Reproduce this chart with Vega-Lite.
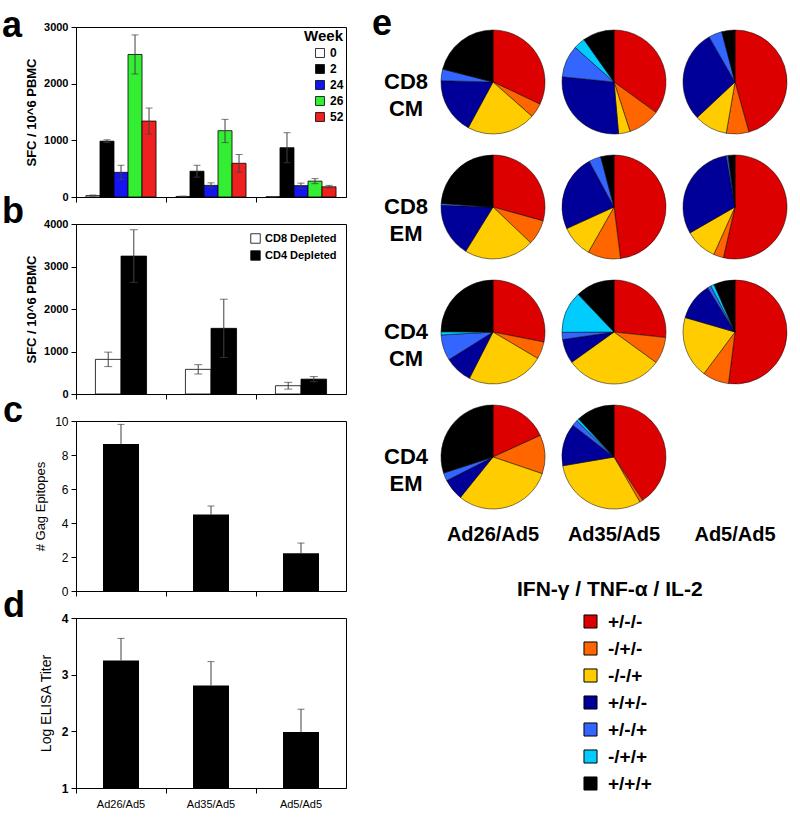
{
  "$schema": "https://vega.github.io/schema/vega-lite/v6.json",
  "padding": {"left": 1, "top": 6, "right": 0, "bottom": 0},
  "config": {
    "font": "Liberation Sans",
    "view": {"stroke": null},
    "axis": {"domainColor": "black", "tickColor": "black", "labelColor": "black", "titleColor": "black", "grid": false, "tickSize": 5, "labelPadding": 3, "labelOverlap": false},
    "title": {"color": "black"},
    "legend": {"labelColor": "black", "titleColor": "black"}
  },
  "hconcat": [
    {
      "vconcat": [
        {
          "width": 270, "height": 170,
          "view": {"stroke": "black", "strokeWidth": 1},
          "title": {"text": "a", "anchor": "start", "frame": "group", "orient": "top", "fontSize": 36, "fontWeight": "bold", "baseline": "alphabetic", "offset": 0, "dx": -74, "dy": 52},
          "data": {"values": [
            {"g": "Ad26/Ad5", "w": "0", "v": 25, "lo": 15, "hi": 35},
            {"g": "Ad26/Ad5", "w": "2", "v": 985, "lo": 960, "hi": 1010},
            {"g": "Ad26/Ad5", "w": "24", "v": 435, "lo": 310, "hi": 560},
            {"g": "Ad26/Ad5", "w": "26", "v": 2515, "lo": 2170, "hi": 2860},
            {"g": "Ad26/Ad5", "w": "52", "v": 1340, "lo": 1110, "hi": 1570},
            {"g": "Ad35/Ad5", "w": "0", "v": 10, "lo": 5, "hi": 15},
            {"g": "Ad35/Ad5", "w": "2", "v": 455, "lo": 350, "hi": 560},
            {"g": "Ad35/Ad5", "w": "24", "v": 205, "lo": 160, "hi": 250},
            {"g": "Ad35/Ad5", "w": "26", "v": 1170, "lo": 960, "hi": 1370},
            {"g": "Ad35/Ad5", "w": "52", "v": 595, "lo": 440, "hi": 750},
            {"g": "Ad5/Ad5", "w": "0", "v": 5, "lo": 2, "hi": 8},
            {"g": "Ad5/Ad5", "w": "2", "v": 870, "lo": 605, "hi": 1135},
            {"g": "Ad5/Ad5", "w": "24", "v": 200, "lo": 155, "hi": 245},
            {"g": "Ad5/Ad5", "w": "26", "v": 280, "lo": 235, "hi": 325},
            {"g": "Ad5/Ad5", "w": "52", "v": 180, "lo": 160, "hi": 205}
          ]},
          "encoding": {
            "x": {"field": "g", "type": "nominal", "sort": ["Ad26/Ad5", "Ad35/Ad5", "Ad5/Ad5"], "scale": {"paddingInner": 0, "paddingOuter": 0}, "axis": {"title": null, "labels": false, "bandPosition": 0}},
            "xOffset": {"field": "w", "type": "nominal", "sort": ["0", "2", "24", "26", "52"], "scale": {"paddingInner": 0, "paddingOuter": 0.71}}
          },
          "layer": [
            {
              "mark": {"type": "bar", "stroke": "black", "strokeWidth": 0.8},
              "encoding": {
                "y": {"field": "v", "type": "quantitative", "scale": {"domain": [0, 3000]}, "axis": {"title": "SFC / 10^6 PBMC", "values": [0, 1000, 2000, 3000], "format": "d", "labelOverlap": false, "labelFontSize": 11, "labelFontWeight": "bold", "titleFontSize": 13, "titleFontWeight": "bold", "titlePadding": 5}},
                "color": {"field": "w", "type": "nominal", "sort": ["0", "2", "24", "26", "52"], "scale": {"domain": ["0", "2", "24", "26", "52"], "range": ["#ffffff", "#000000", "#1414ee", "#33ee33", "#ee2020"]},
                  "legend": {"title": "Week", "orient": "top-right", "offset": 2, "titleFontSize": 15, "titleFontWeight": "bold", "titleAnchor": "end", "labelFontSize": 12, "labelFontWeight": "bold", "symbolType": "square", "symbolSize": 80, "symbolStrokeColor": "black", "symbolStrokeWidth": 0.8, "rowPadding": 2, "labelOffset": 4, "titlePadding": 3}}
              }
            },
            {"mark": {"type": "rule", "color": "#404040", "strokeWidth": 1}, "encoding": {"y": {"field": "lo", "type": "quantitative"}, "y2": {"field": "hi"}}},
            {"mark": {"type": "tick", "color": "#404040", "size": 7, "thickness": 1}, "encoding": {"y": {"field": "hi", "type": "quantitative"}}},
            {"mark": {"type": "tick", "color": "#404040", "size": 7, "thickness": 1}, "encoding": {"y": {"field": "lo", "type": "quantitative"}}}
          ]
        },
        {
          "width": 270, "height": 170,
          "view": {"stroke": "black", "strokeWidth": 1},
          "title": {"text": "b", "anchor": "start", "frame": "group", "orient": "top", "fontSize": 36, "fontWeight": "bold", "baseline": "alphabetic", "offset": 0, "dx": -74, "dy": 41},
          "data": {"values": [
            {"g": "Ad26/Ad5", "d": "CD8 Depleted", "v": 815, "lo": 645, "hi": 985},
            {"g": "Ad26/Ad5", "d": "CD4 Depleted", "v": 3245, "lo": 2625, "hi": 3865},
            {"g": "Ad35/Ad5", "d": "CD8 Depleted", "v": 580, "lo": 470, "hi": 690},
            {"g": "Ad35/Ad5", "d": "CD4 Depleted", "v": 1545, "lo": 860, "hi": 2230},
            {"g": "Ad5/Ad5", "d": "CD8 Depleted", "v": 195, "lo": 115, "hi": 275},
            {"g": "Ad5/Ad5", "d": "CD4 Depleted", "v": 350, "lo": 290, "hi": 410}
          ]},
          "encoding": {
            "x": {"field": "g", "type": "nominal", "sort": ["Ad26/Ad5", "Ad35/Ad5", "Ad5/Ad5"], "scale": {"paddingInner": 0, "paddingOuter": 0}, "axis": {"title": null, "labels": false, "bandPosition": 0}},
            "xOffset": {"field": "d", "type": "nominal", "sort": ["CD8 Depleted", "CD4 Depleted"], "scale": {"paddingInner": 0, "paddingOuter": 0.76}}
          },
          "layer": [
            {
              "mark": {"type": "bar", "stroke": "black", "strokeWidth": 0.8},
              "encoding": {
                "y": {"field": "v", "type": "quantitative", "scale": {"domain": [0, 4000]}, "axis": {"title": "SFC / 10^6 PBMC", "values": [0, 1000, 2000, 3000, 4000], "format": "d", "labelOverlap": false, "labelFontSize": 11, "labelFontWeight": "bold", "titleFontSize": 13, "titleFontWeight": "bold", "titlePadding": 5}},
                "color": {"field": "d", "type": "nominal", "sort": ["CD8 Depleted", "CD4 Depleted"], "scale": {"domain": ["CD8 Depleted", "CD4 Depleted"], "range": ["#ffffff", "#000000"]},
                  "legend": {"title": null, "orient": "top-right", "offset": 9, "labelFontSize": 11, "labelFontWeight": "bold", "symbolType": "square", "symbolSize": 90, "symbolStrokeColor": "black", "symbolStrokeWidth": 0.8, "rowPadding": 4, "labelOffset": 4}}
              }
            },
            {"mark": {"type": "rule", "color": "#404040", "strokeWidth": 1}, "encoding": {"y": {"field": "lo", "type": "quantitative"}, "y2": {"field": "hi"}}},
            {"mark": {"type": "tick", "color": "#404040", "size": 8, "thickness": 1}, "encoding": {"y": {"field": "hi", "type": "quantitative"}}},
            {"mark": {"type": "tick", "color": "#404040", "size": 8, "thickness": 1}, "encoding": {"y": {"field": "lo", "type": "quantitative"}}}
          ]
        },
        {
          "width": 270, "height": 170,
          "view": {"stroke": "black", "strokeWidth": 1},
          "title": {"text": "c", "anchor": "start", "frame": "group", "orient": "top", "fontSize": 36, "fontWeight": "bold", "baseline": "alphabetic", "offset": 0, "dx": -73, "dy": 43},
          "data": {"values": [
            {"g": "Ad26/Ad5", "v": 8.65, "hi": 9.8},
            {"g": "Ad35/Ad5", "v": 4.5, "hi": 5.0},
            {"g": "Ad5/Ad5", "v": 2.22, "hi": 2.82}
          ]},
          "encoding": {
            "x": {"field": "g", "type": "nominal", "sort": ["Ad26/Ad5", "Ad35/Ad5", "Ad5/Ad5"], "scale": {"paddingInner": 0, "paddingOuter": 0}, "axis": {"title": null, "labels": false, "bandPosition": 0}}
          },
          "layer": [
            {
              "mark": {"type": "bar", "color": "black", "width": {"band": 0.4}},
              "encoding": {
                "y": {"field": "v", "type": "quantitative", "scale": {"domain": [0, 10], "nice": false}, "axis": {"title": "# Gag Epitopes", "tickCount": 5, "tickMinStep": 2, "format": "d", "labelOverlap": false, "labelFontSize": 12, "titleFontSize": 13, "titleFontWeight": "normal", "titlePadding": 7}}
              }
            },
            {"mark": {"type": "rule", "color": "#404040", "strokeWidth": 1}, "encoding": {"y": {"field": "v", "type": "quantitative"}, "y2": {"field": "hi"}}},
            {"mark": {"type": "tick", "color": "#404040", "size": 7, "thickness": 1}, "encoding": {"y": {"field": "hi", "type": "quantitative"}}}
          ]
        },
        {
          "width": 270, "height": 170,
          "view": {"stroke": "black", "strokeWidth": 1},
          "title": {"text": "d", "anchor": "start", "frame": "group", "orient": "top", "fontSize": 36, "fontWeight": "bold", "baseline": "alphabetic", "offset": 0, "dx": -73, "dy": 41},
          "data": {"values": [
            {"g": "Ad26/Ad5", "v": 3.25, "hi": 3.64},
            {"g": "Ad35/Ad5", "v": 2.81, "hi": 3.23},
            {"g": "Ad5/Ad5", "v": 1.99, "hi": 2.39}
          ]},
          "encoding": {
            "x": {"field": "g", "type": "nominal", "sort": ["Ad26/Ad5", "Ad35/Ad5", "Ad5/Ad5"], "scale": {"paddingInner": 0, "paddingOuter": 0}, "axis": {"title": null, "labels": true, "bandPosition": 0, "labelAngle": 0, "labelFontSize": 11, "labelPadding": 5}}
          },
          "layer": [
            {
              "mark": {"type": "bar", "color": "black", "width": {"band": 0.4}},
              "encoding": {
                "y": {"field": "v", "type": "quantitative", "scale": {"domain": [1, 4], "zero": false}, "axis": {"title": "Log ELISA Titer", "values": [1, 2, 3, 4], "format": "d", "labelOverlap": false, "labelFontSize": 12, "labelFontWeight": "bold", "titleFontSize": 14, "titleFontWeight": "normal", "titlePadding": 8}},
                "y2": {"datum": 1}
              }
            },
            {"mark": {"type": "rule", "color": "#404040", "strokeWidth": 1}, "encoding": {"y": {"field": "v", "type": "quantitative"}, "y2": {"field": "hi"}}},
            {"mark": {"type": "tick", "color": "#404040", "size": 7, "thickness": 1}, "encoding": {"y": {"field": "hi", "type": "quantitative"}}}
          ]
        }
      ],
      "spacing": 27,
      "bounds": "flush",
      "resolve": {"scale": {"color": "independent", "xOffset": "independent", "x": "independent", "y": "independent"}, "legend": {"color": "independent"}}
    },
    {
      "title": {"text": "e", "anchor": "start", "frame": "group", "orient": "top", "fontSize": 36, "fontWeight": "bold", "baseline": "alphabetic", "offset": 0, "dx": -66, "dy": 44},
      "data": {"values": [
        {"s": "CD8 CM", "v": "Ad26/Ad5", "c": "+/-/-", "k": 1, "p": 32},
        {"s": "CD8 CM", "v": "Ad26/Ad5", "c": "-/+/-", "k": 2, "p": 4.5},
        {"s": "CD8 CM", "v": "Ad26/Ad5", "c": "-/-/+", "k": 3, "p": 21.4},
        {"s": "CD8 CM", "v": "Ad26/Ad5", "c": "+/+/-", "k": 4, "p": 17.5},
        {"s": "CD8 CM", "v": "Ad26/Ad5", "c": "+/-/+", "k": 5, "p": 3.6},
        {"s": "CD8 CM", "v": "Ad26/Ad5", "c": "+/+/+", "k": 7, "p": 21},
        {"s": "CD8 CM", "v": "Ad35/Ad5", "c": "+/-/-", "k": 1, "p": 35},
        {"s": "CD8 CM", "v": "Ad35/Ad5", "c": "-/+/-", "k": 2, "p": 10},
        {"s": "CD8 CM", "v": "Ad35/Ad5", "c": "-/-/+", "k": 3, "p": 3.6},
        {"s": "CD8 CM", "v": "Ad35/Ad5", "c": "+/+/-", "k": 4, "p": 28},
        {"s": "CD8 CM", "v": "Ad35/Ad5", "c": "+/-/+", "k": 5, "p": 10},
        {"s": "CD8 CM", "v": "Ad35/Ad5", "c": "-/+/+", "k": 6, "p": 3.6},
        {"s": "CD8 CM", "v": "Ad35/Ad5", "c": "+/+/+", "k": 7, "p": 9.8},
        {"s": "CD8 CM", "v": "Ad5/Ad5", "c": "+/-/-", "k": 1, "p": 45.7},
        {"s": "CD8 CM", "v": "Ad5/Ad5", "c": "-/+/-", "k": 2, "p": 7},
        {"s": "CD8 CM", "v": "Ad5/Ad5", "c": "-/-/+", "k": 3, "p": 10.3},
        {"s": "CD8 CM", "v": "Ad5/Ad5", "c": "+/+/-", "k": 4, "p": 28.7},
        {"s": "CD8 CM", "v": "Ad5/Ad5", "c": "+/-/+", "k": 5, "p": 4.2},
        {"s": "CD8 CM", "v": "Ad5/Ad5", "c": "+/+/+", "k": 7, "p": 4.1},
        {"s": "CD8 EM", "v": "Ad26/Ad5", "c": "+/-/-", "k": 1, "p": 29.3},
        {"s": "CD8 EM", "v": "Ad26/Ad5", "c": "-/+/-", "k": 2, "p": 7.8},
        {"s": "CD8 EM", "v": "Ad26/Ad5", "c": "-/-/+", "k": 3, "p": 21.7},
        {"s": "CD8 EM", "v": "Ad26/Ad5", "c": "+/+/-", "k": 4, "p": 16.7},
        {"s": "CD8 EM", "v": "Ad26/Ad5", "c": "+/-/+", "k": 5, "p": 0.6},
        {"s": "CD8 EM", "v": "Ad26/Ad5", "c": "+/+/+", "k": 7, "p": 23.9},
        {"s": "CD8 EM", "v": "Ad35/Ad5", "c": "+/-/-", "k": 1, "p": 48},
        {"s": "CD8 EM", "v": "Ad35/Ad5", "c": "-/+/-", "k": 2, "p": 10.2},
        {"s": "CD8 EM", "v": "Ad35/Ad5", "c": "-/-/+", "k": 3, "p": 10},
        {"s": "CD8 EM", "v": "Ad35/Ad5", "c": "+/+/-", "k": 4, "p": 23.9},
        {"s": "CD8 EM", "v": "Ad35/Ad5", "c": "+/-/+", "k": 5, "p": 3.8},
        {"s": "CD8 EM", "v": "Ad35/Ad5", "c": "+/+/+", "k": 7, "p": 4.1},
        {"s": "CD8 EM", "v": "Ad5/Ad5", "c": "+/-/-", "k": 1, "p": 53.6},
        {"s": "CD8 EM", "v": "Ad5/Ad5", "c": "-/+/-", "k": 2, "p": 3.1},
        {"s": "CD8 EM", "v": "Ad5/Ad5", "c": "-/-/+", "k": 3, "p": 10},
        {"s": "CD8 EM", "v": "Ad5/Ad5", "c": "+/+/-", "k": 4, "p": 30.6},
        {"s": "CD8 EM", "v": "Ad5/Ad5", "c": "+/-/+", "k": 5, "p": 0.6},
        {"s": "CD8 EM", "v": "Ad5/Ad5", "c": "+/+/+", "k": 7, "p": 2.1},
        {"s": "CD4 CM", "v": "Ad26/Ad5", "c": "+/-/-", "k": 1, "p": 28.1},
        {"s": "CD4 CM", "v": "Ad26/Ad5", "c": "-/+/-", "k": 2, "p": 5.4},
        {"s": "CD4 CM", "v": "Ad26/Ad5", "c": "-/-/+", "k": 3, "p": 24},
        {"s": "CD4 CM", "v": "Ad26/Ad5", "c": "+/+/-", "k": 4, "p": 8.6},
        {"s": "CD4 CM", "v": "Ad26/Ad5", "c": "+/-/+", "k": 5, "p": 8},
        {"s": "CD4 CM", "v": "Ad26/Ad5", "c": "-/+/+", "k": 6, "p": 1},
        {"s": "CD4 CM", "v": "Ad26/Ad5", "c": "+/+/+", "k": 7, "p": 24.9},
        {"s": "CD4 CM", "v": "Ad35/Ad5", "c": "+/-/-", "k": 1, "p": 26.7},
        {"s": "CD4 CM", "v": "Ad35/Ad5", "c": "-/+/-", "k": 2, "p": 8.3},
        {"s": "CD4 CM", "v": "Ad35/Ad5", "c": "-/-/+", "k": 3, "p": 30.1},
        {"s": "CD4 CM", "v": "Ad35/Ad5", "c": "+/+/-", "k": 4, "p": 7.6},
        {"s": "CD4 CM", "v": "Ad35/Ad5", "c": "+/-/+", "k": 5, "p": 2.2},
        {"s": "CD4 CM", "v": "Ad35/Ad5", "c": "-/+/+", "k": 6, "p": 13},
        {"s": "CD4 CM", "v": "Ad35/Ad5", "c": "+/+/+", "k": 7, "p": 12.1},
        {"s": "CD4 CM", "v": "Ad5/Ad5", "c": "+/-/-", "k": 1, "p": 52},
        {"s": "CD4 CM", "v": "Ad5/Ad5", "c": "-/+/-", "k": 2, "p": 8.2},
        {"s": "CD4 CM", "v": "Ad5/Ad5", "c": "-/-/+", "k": 3, "p": 19.3},
        {"s": "CD4 CM", "v": "Ad5/Ad5", "c": "+/+/-", "k": 4, "p": 11.7},
        {"s": "CD4 CM", "v": "Ad5/Ad5", "c": "+/-/+", "k": 5, "p": 1.1},
        {"s": "CD4 CM", "v": "Ad5/Ad5", "c": "-/+/+", "k": 6, "p": 1.1},
        {"s": "CD4 CM", "v": "Ad5/Ad5", "c": "+/+/+", "k": 7, "p": 6.6},
        {"s": "CD4 EM", "v": "Ad26/Ad5", "c": "+/-/-", "k": 1, "p": 18.2},
        {"s": "CD4 EM", "v": "Ad26/Ad5", "c": "-/+/-", "k": 2, "p": 12},
        {"s": "CD4 EM", "v": "Ad26/Ad5", "c": "-/-/+", "k": 3, "p": 30.6},
        {"s": "CD4 EM", "v": "Ad26/Ad5", "c": "+/+/-", "k": 4, "p": 6.7},
        {"s": "CD4 EM", "v": "Ad26/Ad5", "c": "+/-/+", "k": 5, "p": 2.5},
        {"s": "CD4 EM", "v": "Ad26/Ad5", "c": "+/+/+", "k": 7, "p": 30},
        {"s": "CD4 EM", "v": "Ad35/Ad5", "c": "+/-/-", "k": 1, "p": 40.7},
        {"s": "CD4 EM", "v": "Ad35/Ad5", "c": "-/+/-", "k": 2, "p": 1},
        {"s": "CD4 EM", "v": "Ad35/Ad5", "c": "-/-/+", "k": 3, "p": 30.6},
        {"s": "CD4 EM", "v": "Ad35/Ad5", "c": "+/+/-", "k": 4, "p": 13.2},
        {"s": "CD4 EM", "v": "Ad35/Ad5", "c": "+/-/+", "k": 5, "p": 1.8},
        {"s": "CD4 EM", "v": "Ad35/Ad5", "c": "-/+/+", "k": 6, "p": 0.8},
        {"s": "CD4 EM", "v": "Ad35/Ad5", "c": "+/+/+", "k": 7, "p": 11.9},
        {"s": "CD4 EM", "v": "Ad5/Ad5", "c": "+/-/-", "k": 1, "p": 0}
      ]},
      "facet": {
        "row": {"field": "s", "type": "nominal", "sort": ["CD8 CM", "CD8 EM", "CD4 CM", "CD4 EM"], "title": null,
          "header": {"labelOrient": "left", "labelAngle": 0, "labelAlign": "center", "labelBaseline": "middle", "labelPadding": -12, "labelFontSize": 22, "labelFontWeight": "bold", "labelColor": "black", "labelLineHeight": 27, "labelExpr": "split(datum.value, ' ')"}},
        "column": {"field": "v", "type": "nominal", "sort": ["Ad26/Ad5", "Ad35/Ad5", "Ad5/Ad5"], "title": null,
          "header": {"labelOrient": "bottom", "labelFontSize": 20, "labelFontWeight": "bold", "labelColor": "black", "labelPadding": 13}}
      },
      "spacing": {"row": 15, "column": 11},
      "spec": {
        "width": 110, "height": 110,
        "mark": {"type": "arc", "outerRadius": 52, "stroke": "black", "strokeWidth": 0.5},
        "encoding": {
          "theta": {"field": "p", "type": "quantitative", "stack": true},
          "order": {"field": "k", "type": "quantitative"},
          "opacity": {"condition": {"test": "datum.p === 0", "value": 0}, "value": 1},
          "color": {"field": "c", "type": "nominal",
            "scale": {"domain": ["+/-/-", "-/+/-", "-/-/+", "+/+/-", "+/-/+", "-/+/+", "+/+/+"], "range": ["#dd0000", "#ff6600", "#ffcc00", "#000099", "#3366ff", "#00ccff", "#000000"]},
            "legend": {"orient": "none", "legendX": 79, "legendY": 552, "title": "IFN-γ / TNF-α / IL-2", "titleLimit": 0, "titleFontSize": 21, "titleFontWeight": "bold", "labelFontSize": 19, "labelFontWeight": "bold", "symbolType": "square", "symbolSize": 170, "symbolStrokeColor": "black", "symbolStrokeWidth": 1, "symbolOffset": 64, "labelOffset": 8, "rowPadding": 7, "titlePadding": 12, "padding": 0}}
        }
      }
    }
  ],
  "spacing": 25,
  "resolve": {"scale": {"color": "independent", "xOffset": "independent"}, "legend": {"color": "independent"}}
}
